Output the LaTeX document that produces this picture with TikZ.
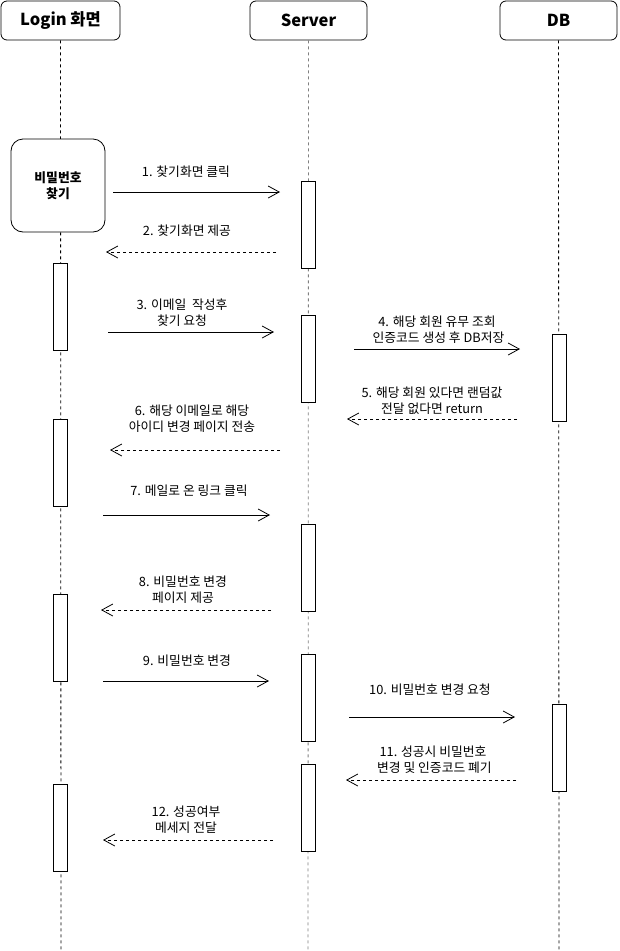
\documentclass[tikz,border=0pt]{standalone}
\usepackage{fontspec}
\setmainfont{Noto Sans CJK KR}
\usetikzlibrary{arrows.meta}
\begin{document}
\begin{tikzpicture}[x=1pt,y=-1pt,
  head/.style={draw, rounded corners=6pt, line width=0.8pt, font=\fontsize{16.5}{19}\selectfont\bfseries, inner sep=0pt},
  life/.style={dash pattern=on 3pt off 3pt, line width=0.8pt},
  act/.style={draw, fill=white, line width=0.8pt, minimum width=14pt, inner sep=0pt},
  msg/.style={line width=0.8pt, -{Straight Barb[length=11pt,width=12pt]}},
  ret/.style={msg, dash pattern=on 3pt off 3pt},
  lbl/.style={font=\fontsize{12.8}{16}\selectfont, align=center, inner sep=0pt}]
\useasboundingbox (0,0) rectangle (619,951);
% headers
\node[head, minimum width=119pt, minimum height=39pt] (hl) at (60.5,20.5) {Login 화면};
\node[head, minimum width=117pt, minimum height=39pt] (hs) at (308.5,20.5) {Server};
\node[head, minimum width=117pt, minimum height=39pt] (hd) at (558.5,20.5) {DB};
% lifelines
\coordinate (el) at (61,951);
\coordinate (es) at (308,951);
\coordinate (ed) at (559,951);
\draw[life] (hl.south) -- (el);
\draw[life, gray] (hs.south) -- (es);
\draw[life] (hd.south) -- (ed);
% find-password box
\node[draw, fill=white, rounded corners=12pt, line width=0.8pt, minimum width=94pt, minimum height=93pt, font=\fontsize{12.8}{16}\selectfont\bfseries, align=center] (find) at (58,185.5) {비밀번호\\찾기};
% activation boxes
\node[act, minimum height=87pt] (s1) at (308,224.5) {};
\node[act, minimum height=87pt] (l1) at (60,306.5) {};
\node[act, minimum height=87pt] (s2) at (308,358.5) {};
\node[act, minimum height=87pt] (d1) at (559,377.5) {};
\node[act, minimum height=87pt] (l2) at (60,462.5) {};
\node[act, minimum height=87pt] (s3) at (308,567.5) {};
\node[act, minimum height=87pt] (l3) at (60,637.5) {};
\node[act, minimum height=87pt] (s4) at (308,697.5) {};
\node[act, minimum height=87pt] (d2) at (559,747.5) {};
\node[act, minimum height=87pt] (s5) at (308,807.5) {};
\node[act, minimum height=87pt] (l4) at (60,827.5) {};
% message endpoints
\coordinate (a1s) at (113,192); \coordinate (a1e) at (280,192);
\coordinate (a2s) at (276,252); \coordinate (a2e) at (106,252);
\coordinate (a3s) at (108,332); \coordinate (a3e) at (274,332);
\coordinate (a4s) at (354,349); \coordinate (a4e) at (520,349);
\coordinate (a5s) at (517,419); \coordinate (a5e) at (347,419);
\coordinate (a6s) at (280,450); \coordinate (a6e) at (110,450);
\coordinate (a7s) at (103,515); \coordinate (a7e) at (270,515);
\coordinate (a8s) at (271,610); \coordinate (a8e) at (101,610);
\coordinate (a9s) at (103,681); \coordinate (a9e) at (269,681);
\coordinate (a10s) at (349,717); \coordinate (a10e) at (515,717);
\coordinate (a11s) at (516,780); \coordinate (a11e) at (346,780);
\coordinate (a12s) at (273,840); \coordinate (a12e) at (103,840);
% messages
\draw[msg] (a1s) -- (a1e);
\draw[ret] (a2s) -- (a2e);
\draw[msg] (a3s) -- (a3e);
\draw[msg] (a4s) -- (a4e);
\draw[ret] (a5s) -- (a5e);
\draw[ret] (a6s) -- (a6e);
\draw[msg] (a7s) -- (a7e);
\draw[ret] (a8s) -- (a8e);
\draw[msg] (a9s) -- (a9e);
\draw[msg] (a10s) -- (a10e);
\draw[ret] (a11s) -- (a11e);
\draw[ret] (a12s) -- (a12e);
% labels
\node[lbl] (t1) at (186,172) {1. 찾기화면 클릭};
\node[lbl] (t2) at (187,231) {2. 찾기화면 제공};
\node[lbl] (t3) at (182,312.5) {3. 이메일\ \ 작성후\\찾기 요청};
\node[lbl] (t4) at (437,330) {4. 해당 회원 유무 조회\\\ 인증코드 생성 후 DB저장};
\node[lbl] (t5) at (432,400.5) {5. 해당 회원 있다면 랜덤값\\전달 없다면 return};
\node[lbl] (t6) at (192,419) {6. 해당 이메일로 해당\\아이디 변경 페이지 전송};
\node[lbl] (t7) at (189,491) {7. 메일로 온 링크 클릭};
\node[lbl] (t8) at (183,589.5) {8. 비밀번호 변경\\페이지 제공};
\node[lbl] (t9) at (187,661) {9. 비밀번호 변경};
\node[lbl] (t10) at (430,690) {10. 비밀번호 변경 요청};
\node[lbl] (t11) at (433,759.5) {11. 성공시 비밀번호\\\ 변경 및 인증코드 폐기};
\node[lbl] (t12) at (186,820) {12. 성공여부\\메세지 전달};
\end{tikzpicture}
\end{document}
